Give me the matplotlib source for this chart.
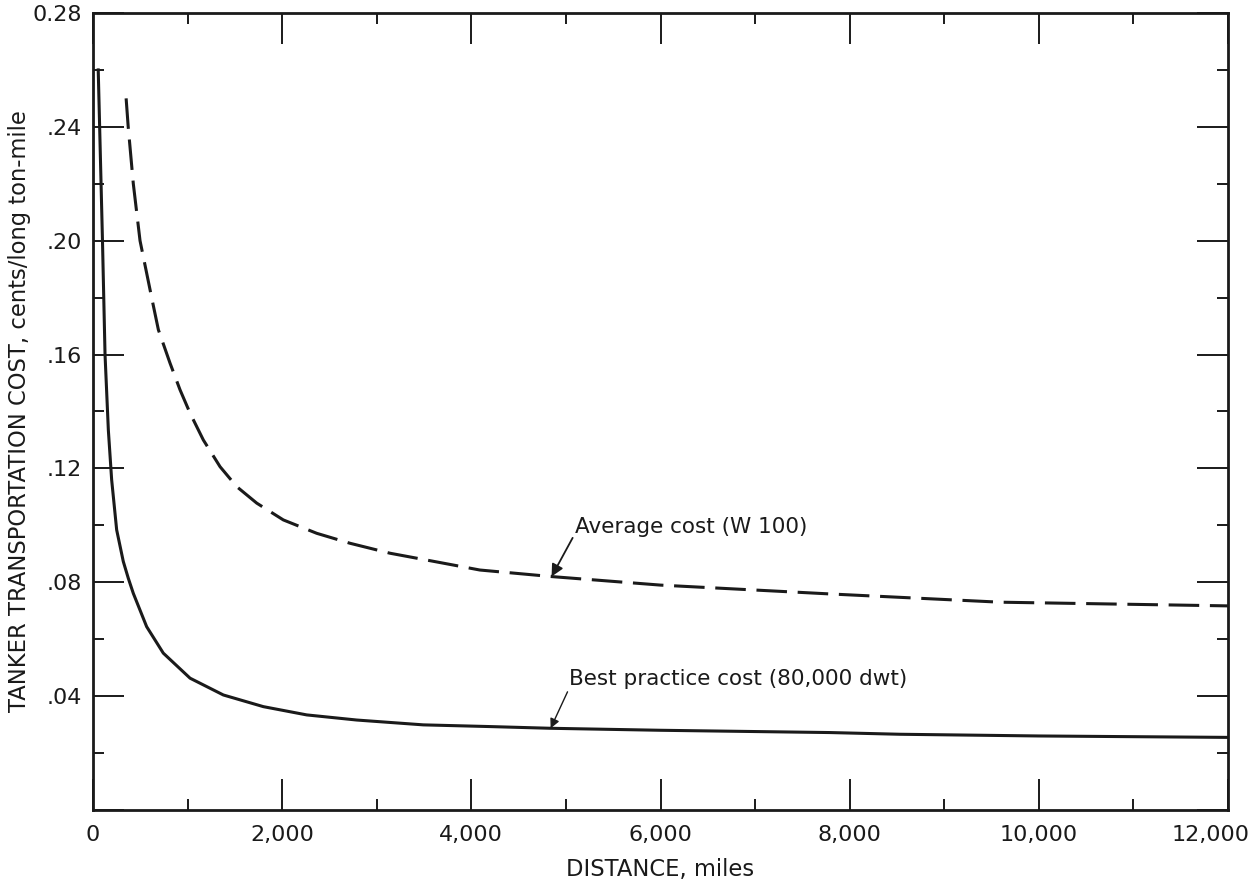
import numpy as np
import matplotlib
matplotlib.use("Agg")
from matplotlib import pyplot as plt
from matplotlib.ticker import MultipleLocator, FixedLocator, FixedFormatter
from matplotlib.transforms import ScaledTranslation

# values
best_x = [55, 100, 127, 162, 197, 250, 320, 373, 426, 567, 743, 1026, 1378,
          1801, 2259, 2788, 3492, 4197, 4838, 6000, 7790, 8530, 10000, 12000]
best_y = [0.260, 0.200, 0.160, 0.1335, 0.116, 0.0984, 0.0873, 0.0814, 0.0761,
          0.0644, 0.0551, 0.0463, 0.0404, 0.0363, 0.0334, 0.0316, 0.0299,
          0.0293, 0.0287, 0.0280, 0.0272, 0.0266, 0.0260, 0.0255]

avg_x = [350, 372, 426, 497, 620, 691, 814, 920, 1026, 1166, 1343, 1519, 1731,
         2012, 2365, 2717, 3140, 3528, 4090, 4848, 6000, 7790, 9590, 12000]
avg_y = [0.250, 0.240, 0.220, 0.200, 0.180, 0.1687, 0.157, 0.1476, 0.1394,
         0.130, 0.1206, 0.1136, 0.1078, 0.1019, 0.0972, 0.0937, 0.0902,
         0.0878, 0.0843, 0.082, 0.079, 0.0759, 0.073, 0.0717]

y_ticks = [0.0, 0.04, 0.08, 0.12, 0.16, 0.20, 0.24, 0.28]
y_labels = ["", ".04", ".08", ".12", ".16", ".20", ".24", "0.28"]
x_ticks = [0, 2000, 4000, 6000, 8000, 10000, 12000]
x_labels = ["0", "2,000", "4,000", "6,000", "8,000", "10,000", "12,000"]

plt.rcParams['font.family'] = ['DejaVu Sans']
ink = '#1a1a1a'

fig = plt.figure(figsize=(12.57, 8.83), dpi=100)
ax = fig.add_axes([0.074, 0.0827, 0.903, 0.9026])

ax.plot(best_x, best_y, color=ink, lw=2.2)
ax.plot(avg_x, avg_y, color=ink, lw=2.2, dashes=(10, 3.5))

ax.set_xlim(0, 12000)
ax.set_ylim(0, 0.28)

ax.xaxis.set_major_locator(FixedLocator(x_ticks))
ax.xaxis.set_major_formatter(FixedFormatter(x_labels))
ax.xaxis.set_minor_locator(MultipleLocator(1000))
ax.yaxis.set_major_locator(FixedLocator(y_ticks))
ax.yaxis.set_major_formatter(FixedFormatter(y_labels))
ax.yaxis.set_minor_locator(MultipleLocator(0.02))

ax.tick_params(which='both', direction='in', top=True, right=True,
               color=ink, labelsize=16, labelcolor=ink)
ax.tick_params(which='major', length=22, width=1.4)
ax.tick_params(axis='x', which='major', pad=11)
ax.tick_params(axis='y', which='major', pad=8)
ax.tick_params(which='minor', length=8, width=1.4)
for s in ax.spines.values():
    s.set_linewidth(2)
    s.set_color(ink)

# last x label sits a bit left of its tick in the original
fig.canvas.draw()
last = ax.get_xticklabels()[-1]
last.set_transform(last.get_transform() +
                   ScaledTranslation(-0.18, 0, fig.dpi_scale_trans))

ax.set_xlabel("DISTANCE, miles", fontsize=16.3, labelpad=9, color=ink)
ax.set_ylabel("TANKER TRANSPORTATION COST, cents/long ton-mile",
              fontsize=16.3, labelpad=1, color=ink)

ax.annotate("Average cost (W 100)", xy=(4848, 0.082), xytext=(5100, 0.0995),
            fontsize=15.5, color=ink, va='center', ha='left',
            arrowprops=dict(arrowstyle='-|>', color=ink, lw=1.3,
                            mutation_scale=18, shrinkA=0, shrinkB=0,
                            relpos=(0, 0.2)))
ax.annotate("Best practice cost (80,000 dwt)", xy=(4838, 0.0287),
            xytext=(5030, 0.0460),
            fontsize=15.5, color=ink, va='center', ha='left',
            arrowprops=dict(arrowstyle='-|>', color=ink, lw=1.0,
                            mutation_scale=14, shrinkA=0, shrinkB=0,
                            relpos=(0, 0.0)))

fig.savefig("out.png", dpi=100)
